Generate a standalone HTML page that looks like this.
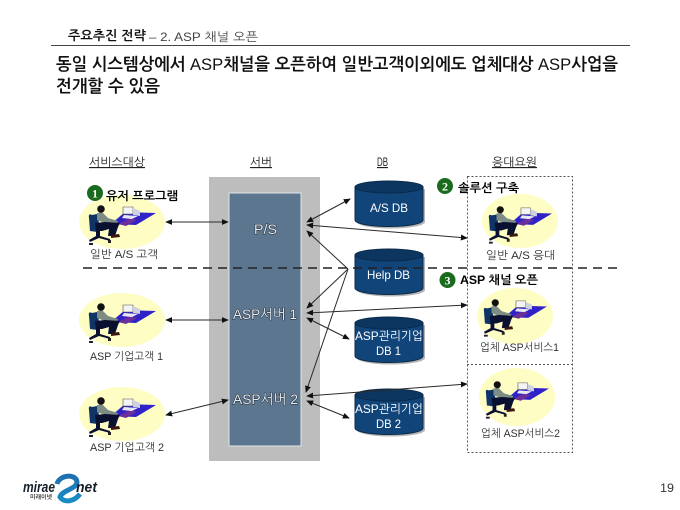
<!DOCTYPE html>
<html lang="ko">
<head>
<meta charset="utf-8">
<style>
html,body{margin:0;padding:0;background:#fff;width:680px;height:510px;overflow:hidden}
svg{display:block}
text{font-family:"Liberation Sans","NanumGothic","Noto Sans CJK KR",sans-serif;fill:#222}
.lb{font-size:11px;fill:#333}
.hd{font-size:11.5px;fill:#222;text-decoration:underline}
.bd{font-size:12px;font-weight:bold;fill:#000}
.sv{font-size:14px;fill:#e6ebf0;stroke:#1c2530;stroke-width:1px;paint-order:stroke}
.db{font-size:12px;fill:#fff}
.ar{stroke:#2a2a2a;stroke-width:1;fill:none;marker-start:url(#a);marker-end:url(#a)}
.ar1{stroke:#2a2a2a;stroke-width:1;fill:none;marker-end:url(#a)}
</style>
</head>
<body>
<svg width="680" height="510" viewBox="0 0 680 510" xmlns="http://www.w3.org/2000/svg">
<defs>
<marker id="a" viewBox="0 0 8 8" refX="7" refY="4" markerWidth="7" markerHeight="7" orient="auto-start-reverse" markerUnits="userSpaceOnUse">
<path d="M0 .6L8 4L0 7.4z" fill="#111"/>
</marker>
<g id="man">
<polygon points="-11,2 3,-10 34,-9 14,3" fill="#2f22c8"/>
<polygon points="-4,2 8,-4 15,-2 4,4" fill="#6a2f9a"/>
<polygon points="1,-15 11,-15 11,-8 1,-8" fill="#f4f4f4" stroke="#555" stroke-width=".6"/>
<polygon points="11,-14 18,-11 18,-6 11,-7" fill="#cdd3de"/>
<polygon points="2,-7 16,-6 10,-3 0,-4" fill="#e8e8f4"/>
<path d="M-30,-7q-4,-2 -3,3l1,13l7,1l2,-9l-2,-9z" fill="#0f3568"/>
<path d="M-25,-9l5,-1l6,6l10,3l-1,3l-12,-1l-8,-3z" fill="#7d8c84"/>
<path d="M-27,1l10,-1l15,1l-2,4l-3,9l-7,0l1,-7l-7,2l-6,0z" fill="#0a1030"/>
<path d="M-11,13l8,-1l1,3l-9,1z" fill="#3c1410"/>
<circle cx="-21" cy="-13" r="3.8" fill="#111"/>
<path d="M-26,8h4v6l10,3v2l-11,-3l-9,4l-1,-2l7,-4z" fill="#0a1030"/>
<path d="M-33,21h4v2h-4zM-14,18h3v3h-3z" fill="#222"/>
</g>
<linearGradient id="sw" x1="0" y1="0" x2="0" y2="1"><stop offset="0" stop-color="#1f6fb0"/><stop offset="1" stop-color="#1a8cc4"/></linearGradient>
</defs>

<!-- header -->
<text x="68" y="40" font-size="13" font-weight="bold" textLength="78" lengthAdjust="spacingAndGlyphs" style="fill:#111">주요추진 전략</text>
<text x="149" y="41" font-size="12" textLength="109" lengthAdjust="spacingAndGlyphs" style="fill:#444">– 2. ASP 채널 오픈</text>
<rect x="51" y="45" width="579" height="1" fill="#444"/>
<text x="56" y="70" font-size="17" font-weight="bold" textLength="562" lengthAdjust="spacingAndGlyphs" style="fill:#111">동일 시스템상에서 <tspan font-weight="normal">ASP</tspan>채널을 오픈하여 일반고객이외에도 업체대상 <tspan font-weight="normal">ASP</tspan>사업을</text>
<text x="56" y="92" font-size="17" font-weight="bold" textLength="104" lengthAdjust="spacingAndGlyphs" style="fill:#111">전개할 수 있음</text>

<!-- column heads -->
<text class="hd" x="89" y="166" textLength="56" lengthAdjust="spacingAndGlyphs">서비스대상</text>
<text class="hd" x="250" y="166" textLength="22" lengthAdjust="spacingAndGlyphs">서버</text>
<text class="hd" x="377" y="166" textLength="11" lengthAdjust="spacingAndGlyphs">DB</text>
<text class="hd" x="492" y="166" textLength="45" lengthAdjust="spacingAndGlyphs">응대요원</text>

<!-- server panel -->
<rect x="209" y="177" width="111" height="284" fill="#bdbdbd"/>
<rect x="229" y="193" width="72" height="253" fill="#5c7690" stroke="#dfe5ea" stroke-width="1"/>

<!-- ellipses -->
<ellipse cx="122" cy="222" rx="43" ry="27" fill="#fdfdc4"/>
<ellipse cx="122" cy="320" rx="43" ry="27" fill="#fdfdc4"/>
<ellipse cx="122" cy="414" rx="43" ry="27" fill="#fdfdc4"/>
<ellipse cx="520" cy="221" rx="38" ry="27" fill="#fdfdc4"/>
<ellipse cx="515" cy="316" rx="38" ry="28" fill="#fdfdc4"/>
<ellipse cx="517" cy="397" rx="38" ry="29" fill="#fdfdc4"/>

<use href="#man" x="122" y="222"/>
<use href="#man" x="122" y="320"/>
<use href="#man" x="122" y="414"/>
<use href="#man" transform="translate(520 222) scale(.94)"/>
<use href="#man" transform="translate(515 315) scale(.94)"/>
<use href="#man" transform="translate(517 397) scale(.94)"/>

<!-- dashed box -->
<g fill="none" stroke="#555" stroke-width="1" stroke-dasharray="2 2">
<rect x="467.500" y="176.500" width="105" height="276"/>
<line x1="467" y1="364.500" x2="572" y2="364.500"/>
</g>

<!-- DBs -->
<g fill="#b5b5b5">
<path d="M357 189v33a34 6.500 0 0 0 68 0v-33z"/>
<path d="M357 257v33a34 6.500 0 0 0 68 0v-33z"/>
<path d="M357 325v33a34 6.500 0 0 0 68 0v-33z"/>
<path d="M357 397v33a34 6.500 0 0 0 68 0v-33z"/>
</g>
<g>
<path d="M355 187v33a34 6.500 0 0 0 68 0v-33z" fill="#11457a" stroke="#0a2a4c" stroke-width="1"/><ellipse cx="389" cy="187" rx="34" ry="6" fill="#0c3660" stroke="#0a2a4c"/>
<path d="M355 255v33a34 6.500 0 0 0 68 0v-33z" fill="#11457a" stroke="#0a2a4c" stroke-width="1"/><ellipse cx="389" cy="255" rx="34" ry="6" fill="#0c3660" stroke="#0a2a4c"/>
<path d="M355 323v33a34 6.500 0 0 0 68 0v-33z" fill="#11457a" stroke="#0a2a4c" stroke-width="1"/><ellipse cx="389" cy="323" rx="34" ry="6" fill="#0c3660" stroke="#0a2a4c"/>
<path d="M355 395v33a34 6.500 0 0 0 68 0v-33z" fill="#11457a" stroke="#0a2a4c" stroke-width="1"/><ellipse cx="389" cy="395" rx="34" ry="6" fill="#0c3660" stroke="#0a2a4c"/>
</g>
<text class="db" x="370" y="212" textLength="38" lengthAdjust="spacingAndGlyphs" style="fill:#fff">A/S DB</text>
<text class="db" x="367" y="279" textLength="43" lengthAdjust="spacingAndGlyphs" style="fill:#fff">Help DB</text>
<text class="db" x="355" y="340" font-size="13" textLength="68" lengthAdjust="spacingAndGlyphs" style="fill:#fff">ASP관리기업</text>
<text class="db" x="376" y="355" textLength="25" lengthAdjust="spacingAndGlyphs" style="fill:#fff">DB 1</text>
<text class="db" x="355" y="413" font-size="13" textLength="68" lengthAdjust="spacingAndGlyphs" style="fill:#fff">ASP관리기업</text>
<text class="db" x="376" y="428" textLength="25" lengthAdjust="spacingAndGlyphs" style="fill:#fff">DB 2</text>

<!-- connectors -->
<line class="ar" x1="166" y1="222" x2="228" y2="222"/>
<line class="ar" x1="166" y1="320" x2="228" y2="320"/>
<line class="ar" x1="166" y1="415" x2="228" y2="400"/>
<line class="ar" x1="307" y1="222" x2="350" y2="199"/>
<line class="ar" x1="307" y1="225" x2="467" y2="238"/>
<line class="ar1" x1="348" y1="269" x2="307" y2="231"/>
<line class="ar1" x1="348" y1="269" x2="307" y2="308"/>
<line class="ar1" x1="348" y1="269" x2="306" y2="392"/>
<line class="ar" x1="307" y1="313" x2="467" y2="305"/>
<line class="ar" x1="307" y1="318" x2="349" y2="339"/>
<line class="ar" x1="307" y1="396" x2="467" y2="384"/>
<line class="ar" x1="307" y1="401" x2="349" y2="418"/>

<!-- horizontal separator -->
<line x1="83" y1="268" x2="618" y2="268" stroke="#222" stroke-width="1.6" stroke-dasharray="9 6"/>

<!-- server labels -->
<text class="sv" x="254" y="234" textLength="23" lengthAdjust="spacingAndGlyphs">P/S</text>
<text class="sv" x="233" y="319" textLength="64" lengthAdjust="spacingAndGlyphs">ASP서버 1</text>
<text class="sv" x="233" y="404" textLength="65" lengthAdjust="spacingAndGlyphs">ASP서버 2</text>

<!-- person labels -->
<text class="lb" x="90" y="258" textLength="68" lengthAdjust="spacingAndGlyphs">일반 A/S 고객</text>
<text class="lb" x="90" y="360" textLength="73" lengthAdjust="spacingAndGlyphs">ASP 기업고객 1</text>
<text class="lb" x="90" y="451" textLength="74" lengthAdjust="spacingAndGlyphs">ASP 기업고객 2</text>
<text class="lb" x="486" y="259" textLength="69" lengthAdjust="spacingAndGlyphs">일반 A/S 응대</text>
<text class="lb" x="480" y="351" textLength="79" lengthAdjust="spacingAndGlyphs">업체 ASP서비스1</text>
<text class="lb" x="481" y="437" textLength="79" lengthAdjust="spacingAndGlyphs">업체 ASP서비스2</text>

<!-- badges -->
<circle cx="95" cy="193" r="8" fill="#1b6b1f"/>
<text x="95" y="197.500" text-anchor="middle" font-size="12" font-weight="bold" style="fill:#fff;font-family:'Liberation Serif',serif">1</text>
<text class="bd" x="106" y="200" textLength="72" lengthAdjust="spacingAndGlyphs">유저 프로그램</text>
<circle cx="445" cy="186" r="8" fill="#1b6b1f"/>
<text x="445" y="190.500" text-anchor="middle" font-size="12" font-weight="bold" style="fill:#fff;font-family:'Liberation Serif',serif">2</text>
<text class="bd" x="458" y="192" textLength="61" lengthAdjust="spacingAndGlyphs">솔루션 구축</text>
<circle cx="447.500" cy="280" r="8" fill="#1b6b1f"/>
<text x="447.500" y="284.500" text-anchor="middle" font-size="12" font-weight="bold" style="fill:#fff;font-family:'Liberation Serif',serif">3</text>
<text class="bd" x="460" y="284" textLength="78" lengthAdjust="spacingAndGlyphs">ASP 채널 오픈</text>

<!-- logo -->
<path d="M57 484C59 475 76 473 77 482C77 489 62 490 60 497C64 503 74 502 80 494" fill="none" stroke="url(#sw)" stroke-width="5"/>
<text x="23" y="492" font-size="15" font-weight="bold" font-style="italic" textLength="32" lengthAdjust="spacingAndGlyphs" style="fill:#15202b">mirae</text>
<text x="76" y="492" font-size="15" font-weight="bold" font-style="italic" textLength="21" lengthAdjust="spacingAndGlyphs" style="fill:#15202b">net</text>
<text x="30" y="499" font-size="6" font-weight="bold" textLength="22" lengthAdjust="spacingAndGlyphs" style="fill:#333">미래이넷</text>

<text x="660" y="492" font-size="12" textLength="14" lengthAdjust="spacingAndGlyphs" style="fill:#333">19</text>
</svg>
</body>
</html>
